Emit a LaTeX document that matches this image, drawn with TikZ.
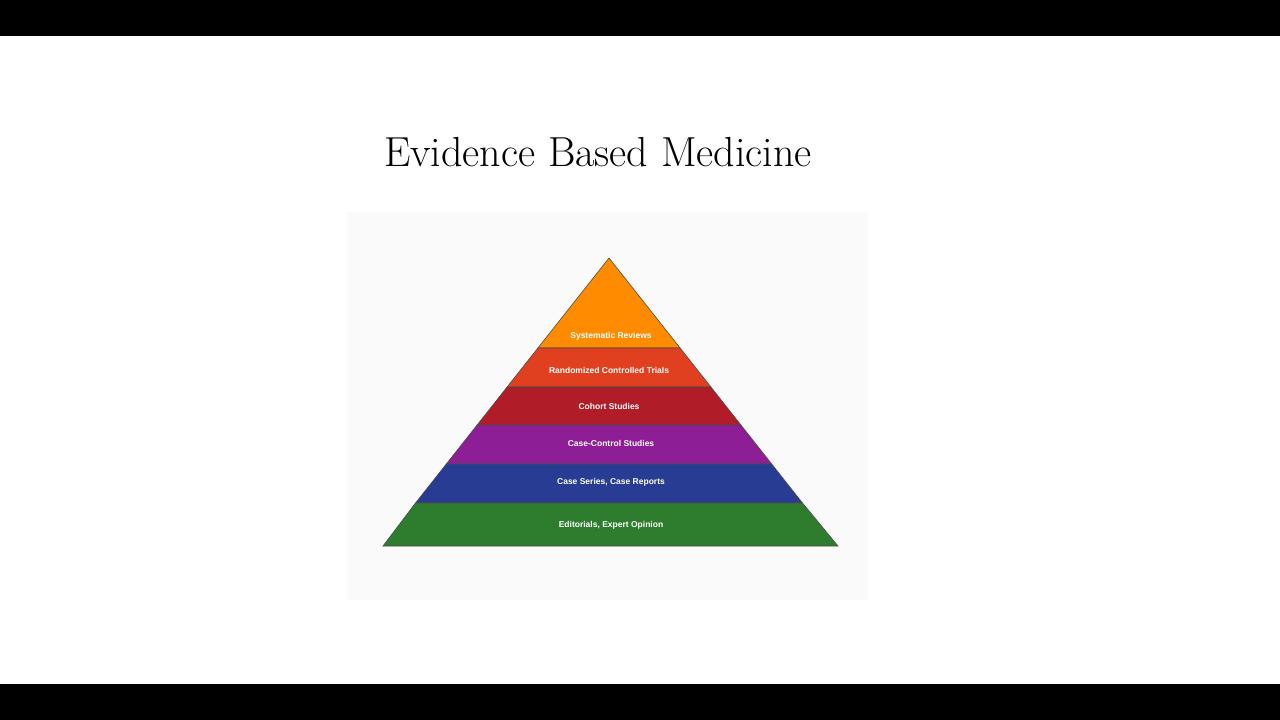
\documentclass[tikz,border=0pt]{standalone}
\usepackage{fontspec}
\setsansfont{Liberation Sans}
\begin{document}
\begin{tikzpicture}[x=1pt,y=-1pt,
  lay/.style={draw=black!70,line width=0.6pt},
  lbl/.style={text=white,font=\sffamily\bfseries\fontsize{8.5}{10}\selectfont}]
\useasboundingbox (0,0) rectangle (1280,720);
\fill[white] (0,0) rectangle (1280,720);
\fill[black] (0,0) rectangle (1280,36);
\fill[black] (0,684) rectangle (1280,720);
\fill[black!2] (347,212) rectangle (868,600);
\node (title) at (598,152) {\fontsize{42}{48}\selectfont Evidence Based Medicine};
\def\cx{609}
\definecolor{c1}{HTML}{FF8C00}\definecolor{c2}{HTML}{E04020}\definecolor{c3}{HTML}{B01C28}
\definecolor{c4}{HTML}{8E1E96}\definecolor{c5}{HTML}{283C94}\definecolor{c6}{HTML}{2E7D2E}
\filldraw[lay,fill=c1] (609,258) -- (537.9,348) -- (680.1,348) -- cycle;
\filldraw[lay,fill=c2] (537.9,348) -- (507.1,387) -- (710.9,387) -- (680.1,348) -- cycle;
\filldraw[lay,fill=c3] (507.1,387) -- (477.1,425) -- (740.9,425) -- (710.9,387) -- cycle;
\filldraw[lay,fill=c4] (477.1,425) -- (446.3,464) -- (771.7,464) -- (740.9,425) -- cycle;
\filldraw[lay,fill=c5] (446.3,464) -- (415.5,503) -- (802.5,503) -- (771.7,464) -- cycle;
\filldraw[lay,fill=c6] (415.5,503) -- (383,546) -- (838,546) -- (802.5,503) -- cycle;
\node[lbl] (l1) at (611,336) {Systematic Reviews};
\node[lbl] (l2) at (609,370) {Randomized Controlled Trials};
\node[lbl] (l3) at (609,406) {Cohort Studies};
\node[lbl] (l4) at (611,443) {Case-Control Studies};
\node[lbl] (l5) at (611,482) {Case Series, Case Reports};
\node[lbl] (l6) at (611,525) {Editorials, Expert Opinion};
\end{tikzpicture}
\end{document}
